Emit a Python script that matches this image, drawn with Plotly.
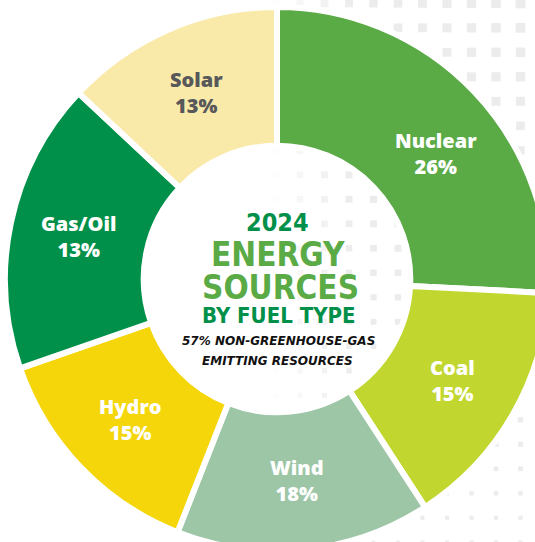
import numpy as np
import plotly.graph_objects as go

# ---- data ----
labels = ["Nuclear", "Coal", "Wind", "Hydro", "Gas/Oil", "Solar"]
label_pct = [26, 15, 18, 15, 13, 13]                 # percentages printed on the slices
drawn_share = [25.8, 15.0, 15.1, 13.7, 17.3, 13.0]   # slice sizes as drawn in the picture
colors = ["#5aaa46", "#c1d730", "#9dc6a7", "#f4d60a", "#00904a", "#f9eaaa"]
label_colors = ["white", "white", "white", "white", "white", "#58585a"]

title_year = "2024"
title_main = ["ENERGY", "SOURCES"]
title_sub = "BY FUEL TYPE"
note_lines = ["57% NON-GREENHOUSE-GAS", "EMITTING RESOURCES"]

# ---- figure geometry (pixels) ----
W, H = 550, 552
cx, cy, R = 277, 279, 272
label_r = 203
label_nudge = {"Nuclear": (12, 14)}

fig = go.Figure()

# decorative halftone dot pattern (background)
gx = np.arange(398 - 24.5 * 6, 546, 24.5)
gy = np.arange(3.3, 552, 24.5)
X, Y = np.meshgrid(gx, gy)
X = X.ravel(); Y = Y.ravel()
d = np.hypot(X - 560, Y + 20)
size = np.clip(10.5 - d / 85, 0, None)
alpha = np.clip((X - 265) / 90, 0, 1)
keep = (size > 1.5) & (alpha > 0.05)
dot_colors = [f"rgba(200,200,200,{0.5 * a:.3f})" for a in alpha[keep]]
fig.add_trace(go.Scatter(
    x=X[keep], y=Y[keep], mode="markers",
    marker=dict(symbol="square", size=size[keep], color=dot_colors, line=dict(width=0)),
    hoverinfo="skip", showlegend=False,
))

fig.add_trace(go.Pie(
    labels=labels, values=drawn_share, sort=False, direction="clockwise", rotation=0,
    hole=0.49,
    marker=dict(colors=colors, line=dict(color="white", width=6)),
    textinfo="none",
    domain=dict(x=[(cx - R) / W, (cx + R) / W], y=[1 - (cy + R) / H, 1 - (cy - R) / H]),
    showlegend=False, hoverinfo="label",
))

ann = []
# slice labels at the middle angle of each slice
tot = sum(drawn_share)
cum = np.cumsum([0] + drawn_share)
for i, (lab, p) in enumerate(zip(labels, label_pct)):
    th = np.deg2rad((cum[i] + cum[i + 1]) / 2 / tot * 360)
    nx, ny = label_nudge.get(lab, (0, 0))
    ann.append(dict(
        text=f"{lab}<br>{p}%", x=cx + label_r * np.sin(th) + nx, y=cy - label_r * np.cos(th) + ny,
        font=dict(family="Open Sans", size=20, color=label_colors[i], weight=800),
    ))

head_font = "DejaVu Sans Condensed, sans-serif"
ann.append(dict(text=title_year, x=277, y=222, height=24, font=dict(family=head_font, size=25, color="#00904a", weight=700)))
ann.append(dict(text=title_main[0], x=278, y=254, height=31, font=dict(family=head_font, size=33, color="#5aaa46", weight=700)))
ann.append(dict(text=title_main[1], x=280, y=287, height=31, font=dict(family=head_font, size=33, color="#5aaa46", weight=700)))
ann.append(dict(text=title_sub, x=279, y=315, height=22, font=dict(family=head_font, size=22, color="#00904a", weight=700)))
ann.append(dict(text=note_lines[0], x=278, y=341, height=16, font=dict(family="DejaVu Sans", size=12, color="#111111", style="italic", weight=700)))
ann.append(dict(text=note_lines[1], x=277, y=361, height=16, font=dict(family="DejaVu Sans", size=12, color="#111111", style="italic", weight=700)))
for a in ann:
    a.update(xref="x", yref="y", showarrow=False, xanchor="center", yanchor="middle")

fig.update_layout(
    width=W, height=H, margin=dict(l=0, r=0, t=0, b=0),
    paper_bgcolor="white", plot_bgcolor="rgba(0,0,0,0)",
    xaxis=dict(range=[0, W], visible=False, fixedrange=True),
    yaxis=dict(range=[H, 0], visible=False, fixedrange=True),
    annotations=ann,
)

fig.write_html("out.html", post_script="document.documentElement.style.overflow='hidden';document.body.style.overflow='hidden';document.body.style.margin='0';")
